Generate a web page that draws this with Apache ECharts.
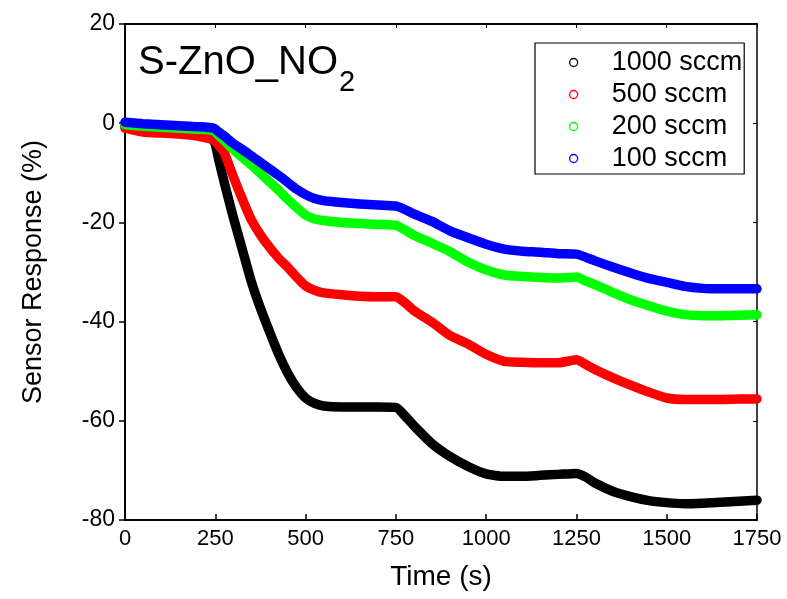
<!DOCTYPE html>
<html>
<head>
<meta charset="utf-8">
<script src="https://cdn.jsdelivr.net/npm/echarts@6/dist/echarts.min.js"></script>
<style>
html,body{margin:0;padding:0;background:#fff;}
#chart{width:787px;height:599px;}
</style>
</head>
<body>
<div id="chart"></div>
<script>
// ---- data ----
var times = [0, 50, 100, 150, 200, 245, 260, 275, 300, 325, 350, 375, 400, 425, 450, 475, 500, 525, 550, 600, 650, 700, 750, 775, 800, 850, 900, 950, 1000, 1050, 1100, 1150, 1200, 1250, 1275, 1300, 1350, 1400, 1450, 1500, 1550, 1600, 1650, 1700, 1750];
var seriesNames = ['1000 sccm', '500 sccm', '200 sccm', '100 sccm'];
var seriesColors = ['#000000', '#ff0000', '#00ff00', '#0000ff'];
var flow1000 = [-0.5, -1.0, -1.3, -1.7, -2.2, -3.5, -7.5, -12, -19, -25.5, -32, -37.3, -42, -46.5, -50.3, -53.3, -55.4, -56.5, -57, -57.2, -57.2, -57.2, -57.3, -59, -61, -64.6, -67.2, -69.2, -70.7, -71.2, -71.2, -71.0, -70.8, -70.6, -71.3, -72.5, -74.2, -75.3, -76.1, -76.5, -76.7, -76.6, -76.4, -76.2, -76.0];
var flow500 = [-1.0, -1.8, -2.0, -2.2, -2.6, -3.4, -4.5, -6, -10.8, -15.3, -19.5, -22.5, -25, -27.2, -29, -31, -32.8, -33.7, -34.2, -34.6, -34.9, -35.0, -35.0, -36.2, -37.8, -40.1, -42.8, -44.5, -46.6, -48.0, -48.2, -48.3, -48.3, -47.7, -48.6, -49.6, -51.3, -52.8, -54.2, -55.4, -55.7, -55.7, -55.7, -55.6, -55.6];
var flow200 = [-0.3, -0.6, -0.8, -1.0, -1.2, -1.5, -2.5, -3.5, -5.3, -6.9, -8.4, -10.1, -11.8, -13.5, -15.3, -17, -18.5, -19.3, -19.6, -20.0, -20.2, -20.4, -20.6, -21.5, -22.6, -24.2, -25.9, -28.0, -29.6, -30.6, -30.9, -31.1, -31.2, -31.0, -31.8, -32.5, -34.1, -35.6, -36.8, -37.9, -38.6, -38.8, -38.8, -38.7, -38.6];
var flow100 = [0.2, -0.1, -0.3, -0.5, -0.7, -1.0, -1.8, -2.6, -4.1, -5.3, -6.6, -7.9, -9.2, -10.5, -11.9, -13.3, -14.4, -15.2, -15.6, -16.0, -16.3, -16.5, -16.7, -17.4, -18.3, -19.8, -21.7, -23.1, -24.4, -25.4, -25.8, -26.0, -26.3, -26.4, -27.0, -27.7, -29.0, -30.2, -31.3, -32.1, -32.9, -33.3, -33.4, -33.4, -33.4];
var xTicks = {min: 0, max: 1750, interval: 250};
var yTicks = {min: -80, max: 20, interval: 20};
var allValues = [flow1000, flow500, flow200, flow100];

var FONT = '"Liberation Sans", Arial, sans-serif';
var chart = echarts.init(document.getElementById('chart'), null, {renderer: 'canvas'});

var series = seriesNames.map(function (name, k) {
  var vals = allValues[k];
  return {
    name: name,
    type: 'line',
    xAxisIndex: 0,
    yAxisIndex: 0,
    symbol: 'none',
    smooth: 0.2,
    lineStyle: {color: seriesColors[k], width: 9.5, cap: 'round', join: 'round'},
    itemStyle: {color: seriesColors[k]},
    data: times.map(function (t, i) { return [t, vals[i]]; }),
    z: 2 + k
  };
});

var option = {
  animation: false,
  backgroundColor: '#ffffff',
  grid: {left: 125, right: 30, top: 24, bottom: 79, containLabel: false},
  title: {
    text: '{a|S-ZnO_NO}{b|2}',
    left: 133,
    top: 38,
    textStyle: {
      fontWeight: 'normal',
      rich: {
        a: {fontSize: 40, fontFamily: FONT, fontWeight: 'normal', color: '#000', verticalAlign: 'top', lineHeight: 40},
        b: {fontSize: 29, fontFamily: FONT, fontWeight: 'normal', color: '#000', verticalAlign: 'top', padding: [25, 0, 0, 1]}
      }
    }
  },
  legend: {
    orient: 'vertical',
    left: 535,
    top: 43,
    padding: [6, 2, 2, 34],
    itemGap: 5,
    itemWidth: 8,
    itemHeight: 8,
    icon: 'circle',
    borderColor: '#000',
    borderWidth: 1.2,
    formatter: function (n) { return '{g|}{t|' + n + '}'; },
    textStyle: {
      fontSize: 27, fontFamily: FONT, color: '#000', lineHeight: 26,
      rich: {
        g: {width: 29},
        t: {fontSize: 27, fontFamily: FONT, color: '#000', lineHeight: 26}
      }
    },
    data: seriesNames.map(function (n, k) {
      return {name: n, itemStyle: {color: '#ffffff', borderColor: seriesColors[k], borderWidth: 1.3}};
    })
  },
  xAxis: [{
    type: 'value',
    min: xTicks.min, max: xTicks.max, interval: xTicks.interval,
    name: 'Time (s)',
    nameLocation: 'middle',
    nameGap: 43,
    nameTextStyle: {fontSize: 28, fontFamily: FONT, color: '#000'},
    axisLine: {show: true, onZero: false, lineStyle: {color: '#000', width: 2}},
    axisTick: {show: true, inside: true, length: 6, lineStyle: {color: '#000', width: 1.5}},
    axisLabel: {fontSize: 22, fontFamily: FONT, color: '#000', margin: 8, formatter: function (v) { return String(v); }},
    splitLine: {show: false}
  }, {
    type: 'value',
    position: 'top',
    min: xTicks.min, max: xTicks.max, interval: xTicks.interval,
    axisLine: {show: true, onZero: false, lineStyle: {color: '#000', width: 2}},
    axisTick: {show: true, inside: true, length: 4, lineStyle: {color: '#000', width: 1}},
    axisLabel: {show: false},
    splitLine: {show: false}
  }],
  yAxis: [{
    type: 'value',
    min: yTicks.min, max: yTicks.max, interval: yTicks.interval,
    name: 'Sensor Response (%)',
    nameLocation: 'middle',
    nameGap: 78,
    nameTextStyle: {fontSize: 27, fontFamily: FONT, color: '#000'},
    axisLine: {show: true, onZero: false, lineStyle: {color: '#000', width: 2}},
    axisTick: {show: true, inside: false, length: 6, lineStyle: {color: '#000', width: 1.5}},
    axisLabel: {fontSize: 23, fontFamily: FONT, color: '#000', margin: 10, formatter: function (v) { return String(v); }},
    splitLine: {show: false}
  }, {
    type: 'value',
    position: 'right',
    min: yTicks.min, max: yTicks.max, interval: yTicks.interval,
    axisLine: {show: true, onZero: false, lineStyle: {color: '#000', width: 1.5}},
    axisTick: {show: true, inside: true, length: 4, lineStyle: {color: '#000', width: 1}},
    axisLabel: {show: false},
    splitLine: {show: false}
  }],
  series: series
};
chart.setOption(option);
</script>
</body>
</html>
